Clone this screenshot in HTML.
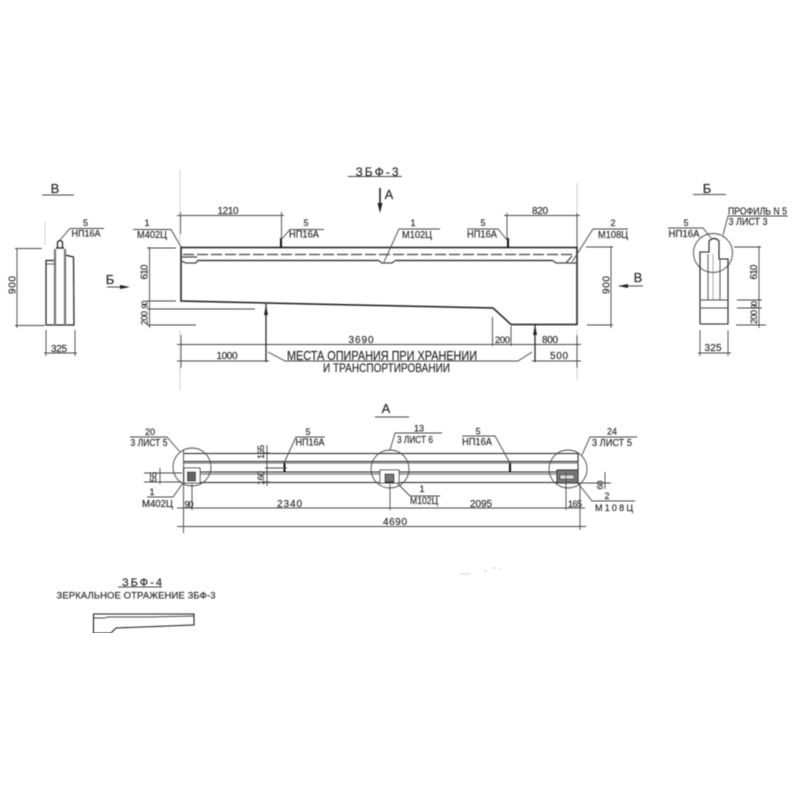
<!DOCTYPE html>
<html><head><meta charset="utf-8"><style>
html,body{margin:0;padding:0;background:#fff}
svg{display:block}
text{font-family:"Liberation Sans",sans-serif;fill:#222;stroke:#333;stroke-width:.15;text-anchor:middle}
.l{fill:none;stroke:#1a1a1a;stroke-width:1.5}
.t{fill:none;stroke:#444;stroke-width:.9}
.g{fill:none;stroke:#c8c8c8;stroke-width:.8}
</style></head><body>
<svg width="800" height="800" viewBox="0 0 800 800" xmlns="http://www.w3.org/2000/svg">
<defs><filter id="b" x="0" y="0" width="100%" height="100%"><feGaussianBlur stdDeviation="0.4"/></filter></defs>
<rect width="800" height="800" fill="#fff"/>
<g filter="url(#b)">
<!-- titles -->
<text x="377" y="176" font-size="12" textLength="43" lengthAdjust="spacing">ЗБФ-3</text>
<path class="t" d="M348 176.500H402"/>
<path class="l" d="M380 188V210"/><path d="M377.500 203L380 213L382.500 203Z" fill="#222"/>
<text x="389" y="199" font-size="13">А</text>
<text x="55" y="193" font-size="13">В</text><path class="t" d="M42 195H74"/>
<text x="707" y="193" font-size="13">Б</text><path class="t" d="M693 194.500H726"/>
<text x="110" y="284" font-size="13">Б</text>
<path class="t" d="M107 287H128"/><path d="M120 285L130 287L120 289Z" fill="#222"/>
<text x="638" y="282" font-size="13">В</text>
<path class="t" d="M619 286H643"/><path d="M628 284L618 286L628 288Z" fill="#222"/>

<!-- left section В -->
<path class="l" style="stroke-width:1.200" d="M46 325V260.500H55M46 325H74L73.500 257L65 255"/>
<path class="l" style="stroke-width:1.200" d="M56 248H64M57.500 248V242Q60 239 62.500 242V248"/>
<path class="t" style="stroke-width:2.200;stroke:#777" d="M55 249V325M65 249V325"/>
<path class="t" d="M46 264H55"/>
<path class="t" d="M60 240L70 228.500H104"/>
<text x="85.500" y="226" font-size="9">5</text><text x="86" y="236.500" font-size="9.500" textLength="29" lengthAdjust="spacingAndGlyphs">НП16А</text>
<path class="t" d="M17 248.500V328M15 248.500H42M15 325.500H45M46 330V356M75 330V356M44 353H77"/>
<text transform="translate(15.500 285) rotate(-90)" font-size="10" textLength="18" lengthAdjust="spacing">900</text>
<text x="59" y="352" font-size="10" textLength="16" lengthAdjust="spacing">325</text>
<path class="g" d="M45 222V245"/>

<!-- main beam -->
<path class="l" d="M181 247.500H577V324.500H511L493 308L266 303L181 301Z"/>
<path d="M183 254.500H575" fill="none" stroke="#444" stroke-width="1.300" stroke-dasharray="11 3"/>
<path class="l" style="stroke-width:1.200" d="M197 260.500H378M396 260.500H552"/>
<path class="t" style="stroke-width:1.300" d="M181 261L186 263H196L198 260M378 260L382 263H392L396 260M552 260L556 263H577M182 257H197M572 256L566 263"/>
<path d="M281 238V247.500M508 238V247.500" stroke="#111" stroke-width="2" fill="none"/>
<path class="g" d="M180 170V245M577 183V245M180 330V390M577 330V380"/>
<!-- top dims -->
<path class="t" d="M177 215.500H284M180.500 212V234M281.500 212V240M504 215.500H580M507 213V240M577 213V247"/>
<text x="228" y="214" font-size="10" textLength="21" lengthAdjust="spacing">1210</text>
<text x="540" y="214" font-size="10" textLength="16" lengthAdjust="spacing">820</text>
<!-- leaders -->
<path class="t" d="M181 247L171 229.500H133"/>
<text x="147" y="226" font-size="9">1</text><text x="152" y="238" font-size="10" textLength="30" lengthAdjust="spacingAndGlyphs">М402Ц</text>
<path class="t" d="M281 240L290 229.500H324"/>
<text x="306" y="226" font-size="9">5</text><text x="304" y="237.500" font-size="10" textLength="30" lengthAdjust="spacingAndGlyphs">НП16А</text>
<path class="t" d="M384 262L399 229H440"/>
<text x="413" y="226" font-size="9">1</text><text x="417" y="238" font-size="10" textLength="30" lengthAdjust="spacingAndGlyphs">М102Ц</text>
<path class="t" d="M507 240L498 229H467"/>
<text x="483" y="226" font-size="9">5</text><text x="482" y="237.500" font-size="10" textLength="30" lengthAdjust="spacingAndGlyphs">НП16А</text>
<path class="t" d="M572 262L593 229H628"/>
<text x="613" y="226" font-size="9">2</text><text x="613" y="238" font-size="10" textLength="30" lengthAdjust="spacingAndGlyphs">М108Ц</text>
<!-- left dims -->
<path class="t" d="M149.500 247V328M147 248H176M147 301H176M147 309H255M147 325H196"/>
<text transform="translate(147.500 272) rotate(-90)" font-size="10" textLength="15" lengthAdjust="spacing">610</text>
<text transform="translate(147.500 304.500) rotate(-90)" font-size="8" textLength="8" lengthAdjust="spacing">90</text>
<text transform="translate(147.500 318) rotate(-90)" font-size="9" textLength="14" lengthAdjust="spacing">200</text>
<!-- right dim -->
<path class="t" d="M586 247H613M611 246V328M587 325H613"/>
<text transform="translate(609.500 285) rotate(-90)" font-size="10" textLength="18" lengthAdjust="spacing">900</text>
<!-- bottom dims -->
<path class="t" d="M177 344.500H581M177 361H269M532 361H581M181 335V368M577 335V368M492.500 317V346M511 326V346"/>
<text x="361" y="343" font-size="10" textLength="25" lengthAdjust="spacing">3690</text>
<text x="502.500" y="343" font-size="9.500" textLength="15" lengthAdjust="spacing">200</text>
<text x="550" y="343" font-size="10" textLength="16" lengthAdjust="spacing">800</text>
<text x="227" y="359" font-size="10" textLength="21" lengthAdjust="spacing">1000</text>
<text x="559" y="359" font-size="10" textLength="18" lengthAdjust="spacing">500</text>
<path class="l" style="stroke-width:1.200" d="M266 304V362M535 325V362"/>
<path d="M264 315L266 305L268 315ZM533 335L535 325L537 335Z" fill="#222"/>
<path class="t" d="M268 352L285 361H518L532 352"/>
<text x="382" y="360" font-size="13" textLength="190" lengthAdjust="spacingAndGlyphs">МЕСТА  ОПИРАНИЯ  ПРИ  ХРАНЕНИИ</text>
<text x="386.500" y="372" font-size="12" textLength="127" lengthAdjust="spacingAndGlyphs">И  ТРАНСПОРТИРОВАНИИ</text>

<!-- right section Б -->
<circle cx="713" cy="253" r="19.500" class="t"/>
<path class="l" style="stroke-width:1.100" d="M700 324H728V259H719V241Q714 236 709 241V252H700V324"/>
<path class="t" d="M708 254V300M720 259V300M700 300H728M700 308H728"/>
<path class="t" style="stroke-width:.6;stroke:#777" d="M713 254V300"/>
<path class="t" d="M711 238L703 228H668M723 235L728 216H788"/>
<text x="686" y="226" font-size="9">5</text><text x="684" y="237" font-size="10" textLength="31" lengthAdjust="spacingAndGlyphs">НП16А</text>
<text x="757.500" y="214.500" font-size="10" textLength="59" lengthAdjust="spacingAndGlyphs">ПРОФИЛЬ N 5</text>
<text x="748" y="225" font-size="10" textLength="39" lengthAdjust="spacingAndGlyphs">3 ЛИСТ 3</text>
<path class="t" d="M734 247H761M759 246V328M737 300H762M737 308H762M736 325H766M700 330V356M728 330V356M698 353H731"/>
<text transform="translate(757 272) rotate(-90)" font-size="10" textLength="15" lengthAdjust="spacing">610</text>
<text transform="translate(757 305) rotate(-90)" font-size="8" textLength="8" lengthAdjust="spacing">90</text>
<text transform="translate(757 317) rotate(-90)" font-size="9" textLength="14" lengthAdjust="spacing">200</text>
<text x="713" y="351" font-size="10" textLength="17" lengthAdjust="spacing">325</text>

<!-- plan A -->
<text x="386" y="413" font-size="13">А</text><path class="t" d="M375 417H409"/>
<path class="l" style="stroke-width:1" d="M184 453.500H578M184 461.500H578M184 472H578M184 482.500H578M578 453V482"/>
<path style="stroke:#777;stroke-width:1.300;fill:none" d="M184 463H578M184 474H578"/>
<circle cx="192" cy="467" r="19" class="t"/>
<circle cx="390" cy="469" r="19" class="t"/>
<circle cx="568" cy="469" r="19" class="t"/>
<rect x="184" y="468" width="16" height="15" fill="#fff" stroke="#333" stroke-width="1"/>
<rect x="187.500" y="472" width="8" height="9" fill="#666" stroke="#222"/>
<rect x="380" y="470" width="19" height="13" fill="#fff" stroke="#333" stroke-width="1"/>
<rect x="385" y="474" width="9" height="8" fill="#777" stroke="#222"/>
<rect x="557" y="470" width="21" height="13" fill="#777" stroke="#222" stroke-width="1"/>
<rect x="560" y="475" width="14" height="4" fill="#ddd" stroke="#333" stroke-width=".7"/>
<path d="M284.500 463V472M510 463V472" stroke="#111" stroke-width="2" fill="none"/>
<path class="t" d="M284 463L296 437H325"/>
<text x="308" y="435" font-size="9">5</text><text x="310" y="445.500" font-size="10" textLength="29" lengthAdjust="spacingAndGlyphs">НП16А</text>
<path class="t" d="M510 463L495 436H462"/>
<text x="478" y="434.500" font-size="9">5</text><text x="477" y="445" font-size="10" textLength="30" lengthAdjust="spacingAndGlyphs">НП16А</text>
<path class="t" d="M180 452L167 437H130"/>
<text x="150" y="435" font-size="9">20</text><text x="149" y="446" font-size="10" textLength="37" lengthAdjust="spacingAndGlyphs">3 ЛИСТ 5</text>
<path class="t" d="M390 450L395 433H442"/>
<text x="419" y="431.500" font-size="9">13</text><text x="415" y="443" font-size="10" textLength="36" lengthAdjust="spacingAndGlyphs">3 ЛИСТ 6</text>
<path class="t" d="M582 455L590 437H637"/>
<text x="612" y="434.500" font-size="9">24</text><text x="612" y="446" font-size="10" textLength="40" lengthAdjust="spacingAndGlyphs">3 ЛИСТ 5</text>
<path class="t" d="M183 483L173 497H147"/>
<text x="152" y="495" font-size="9">1</text><text x="157.500" y="507" font-size="10" textLength="31" lengthAdjust="spacingAndGlyphs">М402Ц</text>
<path class="t" d="M397 483L410 496H440"/>
<text x="422" y="492" font-size="9">1</text><text x="424" y="504" font-size="10" textLength="28" lengthAdjust="spacingAndGlyphs">М102Ц</text>
<path class="t" d="M577 482L592 501H635"/>
<text x="607" y="499" font-size="9">2</text><text x="614" y="511" font-size="9" textLength="38" lengthAdjust="spacing">М108Ц</text>
<!-- plan dims -->
<path class="t" d="M177 508H585M177 526.500H586M183.500 450V533M192 484V510M390 484V510M566 472V510M580 484V530"/>
<path class="t" d="M160 468V484M144 473H182M144 482H182"/>
<path class="t" d="M267 445V486M262 453H270M262 482H270M265 468H287"/>
<text x="289.500" y="507" font-size="10" textLength="25" lengthAdjust="spacing">2340</text>
<text x="481" y="507" font-size="10" textLength="22" lengthAdjust="spacing">2095</text>
<text x="395" y="525" font-size="10" textLength="24" lengthAdjust="spacing">4690</text>
<text x="189" y="507.500" font-size="9" textLength="9" lengthAdjust="spacing">90</text>
<text x="575" y="507" font-size="9" textLength="14" lengthAdjust="spacing">165</text>
<text transform="translate(264 452) rotate(-90)" font-size="9" textLength="14" lengthAdjust="spacing">165</text>
<text transform="translate(264 478) rotate(-90)" font-size="9" textLength="14" lengthAdjust="spacing">160</text>
<text transform="translate(156.500 477) rotate(-90)" font-size="9.500" textLength="10" lengthAdjust="spacing">55</text>
<text transform="translate(603 485) rotate(-90)" font-size="8.500" textLength="9" lengthAdjust="spacing">60</text>
<path class="t" d="M578 483H611M605 472V489"/>

<!-- 3БФ-4 -->
<text x="142" y="586" font-size="11" textLength="40" lengthAdjust="spacing">ЗБФ-4</text>
<path class="t" d="M118 587H162"/>
<text x="136" y="598.500" font-size="9.500" textLength="159" lengthAdjust="spacing">ЗЕРКАЛЬНОЕ ОТРАЖЕНИЕ ЗБФ-3</text>
<path class="l" style="stroke-width:1.100" d="M93.500 614H194V625L116 628L111 633H93.500Z"/>
<path class="t" d="M94 618H104L108 617H150L194 616"/>
<!-- specks -->
<path class="g" d="M460 574H470M484 571H487M492 568H496M498 569H500"/>
</g>
</svg>
</body></html>
